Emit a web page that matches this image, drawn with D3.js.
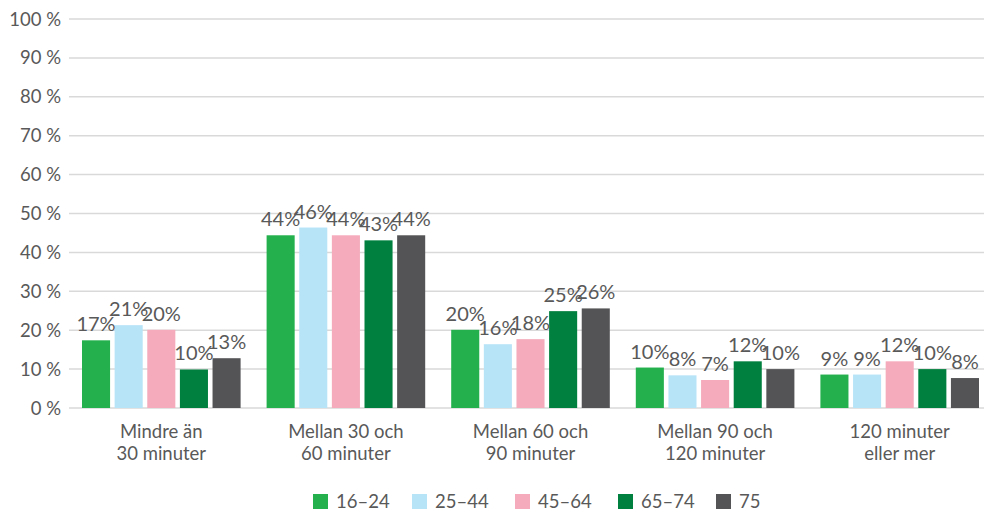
<!DOCTYPE html>
<html><head><meta charset="utf-8">
<script src="https://cdn.jsdelivr.net/npm/d3@7"></script>
<style>
html,body{margin:0;padding:0;background:#fff;}
svg{display:block;font-family:Lato,"Open Sans",sans-serif;}
</style></head>
<body>
<svg id="chart" width="984" height="510"></svg>
<script>
const categories = [["Mindre än","30 minuter"],["Mellan 30 och","60 minuter"],["Mellan 60 och","90 minuter"],["Mellan 90 och","120 minuter"],["120 minuter","eller mer"]];
const seriesNames = ["16–24","25–44","45–64","65–74","75"];
const colors = ["#24b14d","#b8e4f8","#f5abbb","#00803e","#545456"];
const s1624 = [17.4, 44.4, 20.1, 10.4, 8.6];
const s2544 = [21.3, 46.4, 16.4, 8.4, 8.6];
const s4564 = [20.1, 44.4, 17.7, 7.2, 12.0];
const s6574 = [9.9, 43.1, 24.9, 12.0, 10.0];
const s75 = [12.8, 44.4, 25.6, 10.0, 7.7];
const yTicks = [0,10,20,30,40,50,60,70,80,90,100];

const series = [s1624, s2544, s4564, s6574, s75];
const svg = d3.select("#chart");
const textColor = "#595959";

const x0 = d3.scaleBand().domain(d3.range(categories.length)).range([69, 992]).paddingInner(0).paddingOuter(0);
const x1 = d3.scaleBand().domain(d3.range(seriesNames.length)).range([13, x0.bandwidth()-13]).paddingInner(0.14).paddingOuter(0);
const y = d3.scaleLinear().domain([0,100]).range([408, 19]);

// gridlines
svg.append("g").selectAll("line").data(yTicks).join("line")
  .attr("x1", 69).attr("x2", 992)
  .attr("y1", d => y(d)).attr("y2", d => y(d))
  .attr("stroke", "#d9d9d9").attr("stroke-width", 1.5);

// y tick labels
svg.append("g").selectAll("text").data(yTicks).join("text")
  .attr("x", 61).attr("y", d => y(d) + 6.5)
  .attr("text-anchor", "end")
  .attr("font-size", 18.5).attr("fill", textColor)
  .text(d => d + " %");

// bars
const groups = svg.append("g").selectAll("g").data(categories).join("g")
  .attr("transform", (d,i) => `translate(${x0(i)},0)`);

seriesNames.forEach((name, si) => {
  groups.append("rect")
    .attr("x", x1(si)).attr("width", x1.bandwidth())
    .attr("y", (d,ci) => y(series[si][ci]))
    .attr("height", (d,ci) => y(0) - y(series[si][ci]))
    .attr("fill", colors[si]);
});
seriesNames.forEach((name, si) => {
  groups.append("text")
    .attr("x", x1(si) + x1.bandwidth()/2)
    .attr("y", (d,ci) => y(series[si][ci]) - 9)
    .attr("text-anchor", "middle")
    .attr("font-size", 20).attr("fill", textColor)
    .text((d,ci) => Math.round(series[si][ci]) + "%");
});

// category labels
groups.each(function(d, i) {
  const g = d3.select(this);
  d.forEach((line, li) => {
    g.append("text")
      .attr("x", x0.bandwidth()/2)
      .attr("y", 438 + li*22)
      .attr("text-anchor", "middle")
      .attr("font-size", 18.5).attr("fill", textColor)
      .text(line);
  });
});

// legend
const legendX = [313, 412, 515, 618, 716];
const leg = svg.append("g").selectAll("g").data(seriesNames).join("g")
  .attr("transform", (d,i) => `translate(${legendX[i]},0)`);
leg.append("rect").attr("x",0).attr("y",494).attr("width",15).attr("height",15)
  .attr("fill", (d,i) => colors[i]);
leg.append("text").attr("x", 23).attr("y", 507.5)
  .attr("font-size", 18.5).attr("fill", textColor).text(d => d);
</script>
</body></html>
